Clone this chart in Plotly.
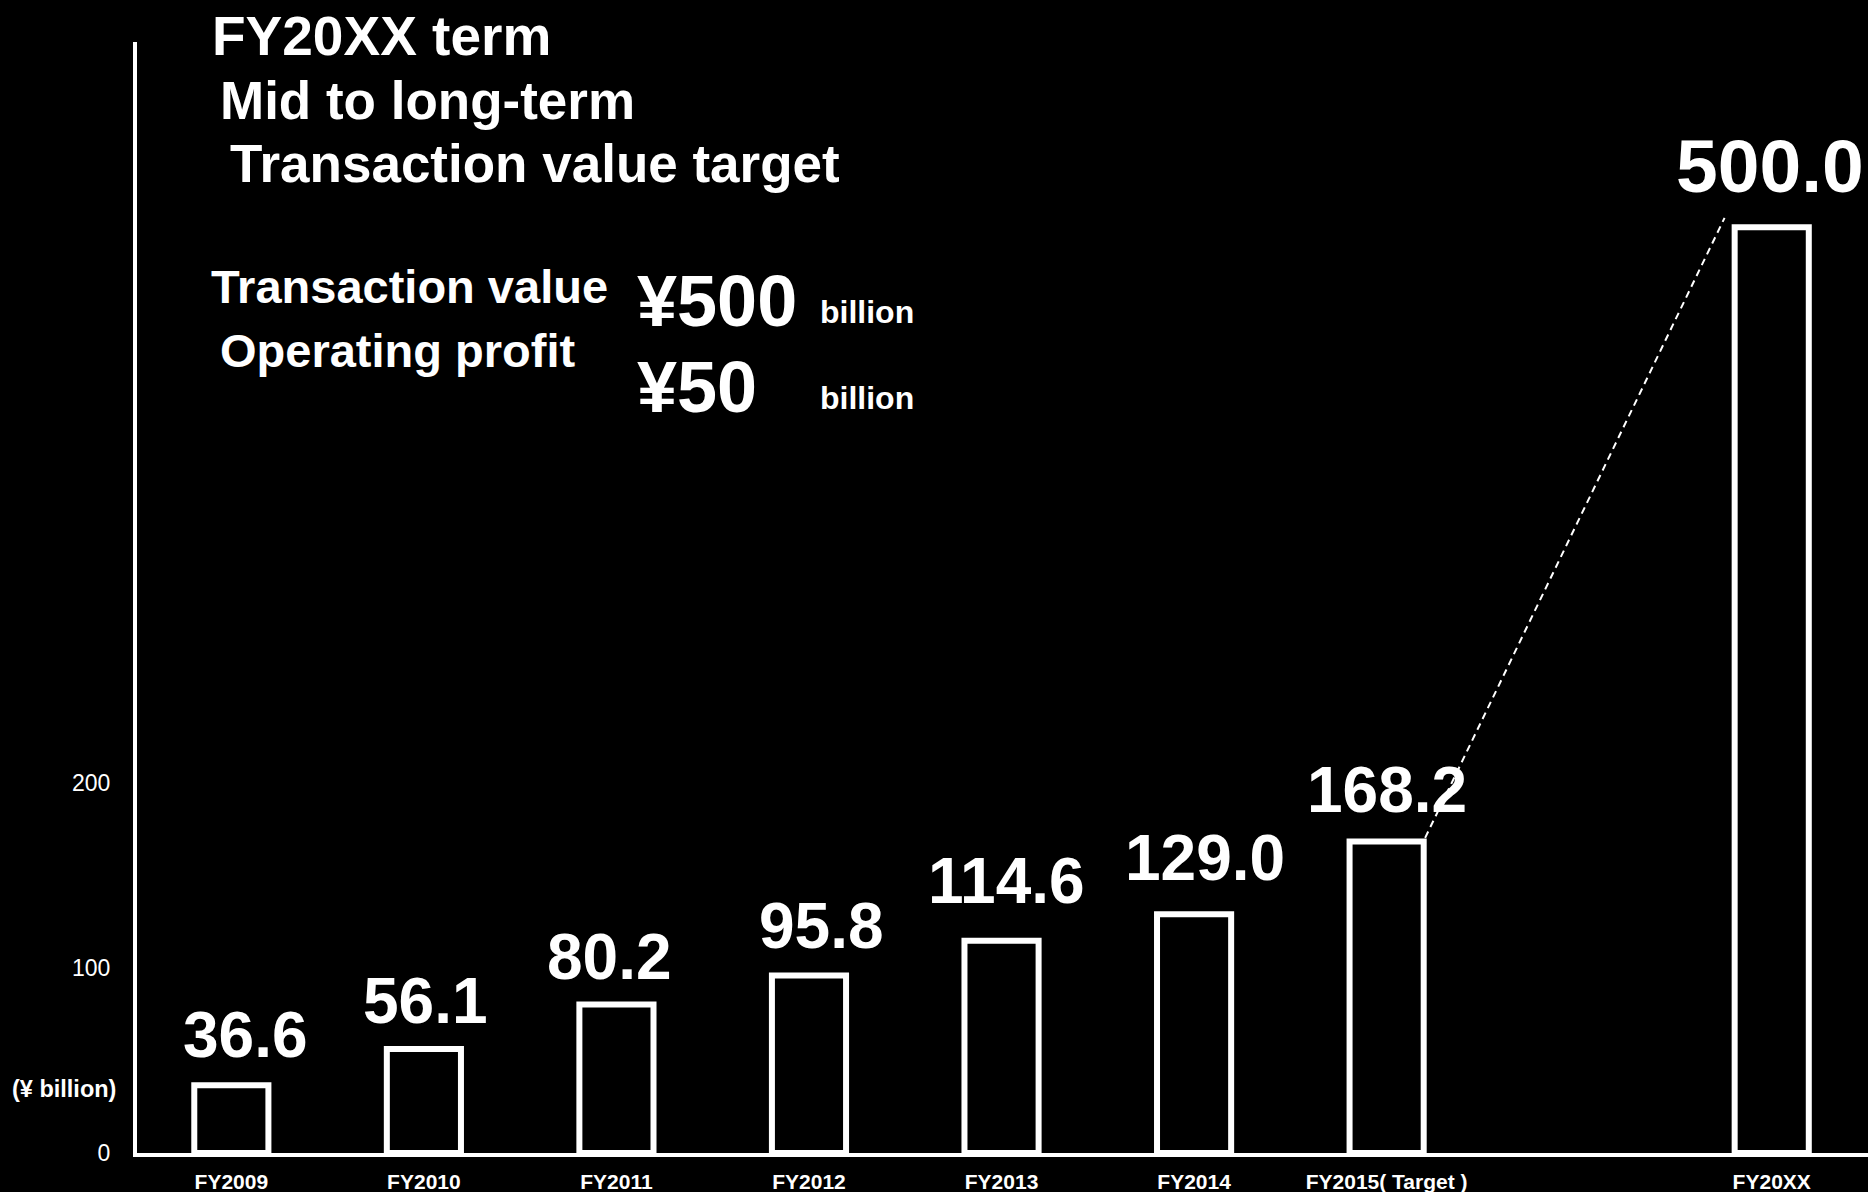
import plotly.graph_objects as go

# Transaction value by fiscal year (¥ billion)
years = ["FY2009", "FY2010", "FY2011", "FY2012", "FY2013", "FY2014", "FY2015( Target )", "FY20XX"]
positions = [0, 1, 2, 3, 4, 5, 6, 8]
values = [36.6, 56.1, 80.2, 95.8, 114.6, 129.0, 168.2, 500.0]
value_labels = ["36.6", "56.1", "80.2", "95.8", "114.6", "129.0", "168.2", "500.0"]
y_ticks = [0, 100, 200]

FONT = "Liberation Sans, Arial, sans-serif"
W, H = 1868, 1192
L, R, T, B = 137, 0, 42, 39
PW, PH = W - L - R, H - T - B


def px(x):
    return (x - L) / PW


def py(y):
    return (H - B - y) / PH


fig = go.Figure()

fig.add_trace(go.Bar(
    x=positions, y=values, width=0.385,
    marker=dict(color="black", line=dict(color="white", width=6)),
    hoverinfo="skip",
))

# dashed connector from the FY2015 target to the long-term target
bw = 0.2
fig.add_trace(go.Scatter(
    x=[positions[6] + bw, positions[7] - bw - 0.045],
    y=[values[6] + 2, values[7] + 5],
    mode="lines",
    line=dict(color="white", width=2, dash="7px,5px"),
    hoverinfo="skip",
))

# hand-placed value labels: (x nudge, y lift) in pixels
label_nudge = [(14, 12), (2, 10), (-7, 10), (13, 12), (5, 22), (11, 18), (0, 14), (-2, 17)]

annotations = []
for p, v, lab, (dx, dy) in zip(positions, values, value_labels, label_nudge):
    big = v >= 500
    annotations.append(dict(
        x=p, y=v, xref="x", yref="y", text=f"<b>{lab}</b>", showarrow=False,
        xanchor="center", yanchor="bottom", xshift=dx, yshift=dy,
        font=dict(family=FONT, size=75 if big else 64, color="white"),
    ))

# headline block
texts = [
    ("FY20XX term", 210, 36, 55),
    ("Mid to long-term", 218, 101, 53),
    ("Transaction value target", 228, 163, 53),
    ("Transaction value", 209, 286, 47),
    ("Operating profit", 218, 350, 47),
    ("¥500", 635, 301, 72),
    ("¥50", 635, 387, 72),
    ("billion", 818, 312, 32),
    ("billion", 818, 398, 32),
    ("(¥ billion)", 10, 1089, 23.5),
]
for t, x, y, s in texts:
    annotations.append(dict(
        x=px(x), y=py(y), xref="paper", yref="paper", text=f"<b>{t}</b>",
        showarrow=False, xanchor="left", yanchor="middle",
        font=dict(family=FONT, size=s, color="white"),
    ))

fig.update_layout(
    width=W, height=H,
    margin=dict(l=L, r=R, t=T, b=B),
    paper_bgcolor="black", plot_bgcolor="black",
    showlegend=False,
    annotations=annotations,
    xaxis=dict(
        range=[-0.49, 8.5], tickmode="array", tickvals=positions,
        ticktext=[f"<b>{y}</b>" for y in years],
        tickfont=dict(family=FONT, size=21, color="white"),
        showgrid=False, zeroline=False, showline=True, automargin=False,
        linecolor="white", linewidth=4, ticks="", ticklabelstandoff=7,
    ),
    yaxis=dict(
        range=[0, 600], tickmode="array", tickvals=y_ticks,
        ticktext=[str(v) for v in y_ticks],
        tickfont=dict(family=FONT, size=23, color="white"),
        showgrid=False, zeroline=False, showline=True, automargin=False,
        linecolor="white", linewidth=4, ticks="", ticklabelstandoff=18,
    ),
)

fig.write_html("out.html")
